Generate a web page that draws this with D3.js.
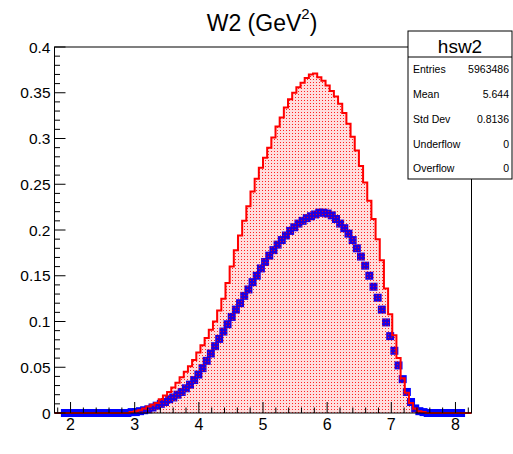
<!DOCTYPE html>
<html><head><meta charset="utf-8">
<script src="https://cdn.jsdelivr.net/npm/d3@7"></script>
<style>html,body{margin:0;padding:0;background:#fff;}svg{display:block;font-family:"Liberation Sans",Arial,Helvetica,sans-serif;}</style>
</head><body><svg id="c" width="513" height="454"></svg>
<script>
// ---- data ----
const histRange = [1.75, 8.25];
const nBins = 100;
const redCounts = [
 0,0,0,0,0,0,0,0,0,0,
 0,0,0,0,0,0,0,0,0.001,0.002,
 0.003,0.005,0.007,0.009,0.011,0.015,0.019,0.023,0.028,0.033,
 0.039,0.045,0.051,0.058,0.066,0.074,0.082,0.091,0.100,0.112,
 0.125,0.142,0.160,0.178,0.194,0.210,0.226,0.242,0.256,0.268,
 0.279,0.290,0.301,0.313,0.323,0.334,0.343,0.350,0.356,0.361,
 0.366,0.370,0.371,0.367,0.363,0.358,0.352,0.346,0.338,0.328,
 0.316,0.302,0.287,0.270,0.252,0.232,0.212,0.190,0.167,0.136,
 0.108,0.085,0.060,0.038,0.022,0.011,0.005,0.002,0.001,0,
 0,0,0,0,0,0,0,0,0,0];
const blueCounts = [
 null,null,0,0,0,0,0,0,0,0,
 0,0,0,0,0,0,0,0,0.001,0.001,
 0.002,0.003,0.004,0.006,0.008,0.010,0.012,0.015,0.017,0.020,
 0.023,0.027,0.031,0.036,0.042,0.049,0.057,0.065,0.073,0.081,
 0.089,0.097,0.105,0.113,0.120,0.128,0.135,0.143,0.150,0.158,
 0.165,0.172,0.178,0.184,0.189,0.194,0.199,0.203,0.207,0.210,
 0.213,0.215,0.217,0.219,0.219,0.218,0.216,0.212,0.207,0.202,
 0.196,0.189,0.180,0.171,0.161,0.150,0.138,0.126,0.113,0.099,
 0.084,0.068,0.052,0.037,0.023,0.012,0.005,0.002,0.001,0,
 0,0,0,0,0,0,0,0,null,null];
const yDomain = [0, 0.4];
const xTicks = [2,3,4,5,6,7,8];
const xTickLabels = ["2","3","4","5","6","7","8"];
const yTicks = [0,0.05,0.1,0.15,0.2,0.25,0.3,0.35,0.4];
const yTickLabels = ["0","0.05","0.1","0.15","0.2","0.25","0.3","0.35","0.4"];
const titleText = "W2 (GeV";
const titleSup = "2";
const titleEnd = ")";
const statsName = "hsw2";
const statsLabels = ["Entries","Mean","Std Dev","Underflow","Overflow"];
const statsValues = ["5963486","5.644","0.8136","0","0"];

// ---- layout ----
const L = 54.5, R = 471.5, T = 47, B = 413;
const svg = d3.select("#c");
const x = d3.scaleLinear().domain(histRange).range([L, R]);
const y = d3.scaleLinear().domain(yDomain).range([B, T]);
const bw = (histRange[1]-histRange[0]) / nBins;
const edges = d3.range(nBins + 1).map(i => histRange[0] + i*bw);

const defs = svg.append("defs");
const pat = defs.append("pattern").attr("id","dots").attr("patternUnits","userSpaceOnUse")
  .attr("width",3).attr("height",3);
pat.append("rect").attr("x",0).attr("y",0).attr("width",3).attr("height",3).attr("fill","#ff0000").attr("opacity",0.13);
pat.append("rect").attr("x",1).attr("y",1).attr("width",1).attr("height",1).attr("fill","#ff0000").attr("opacity",0.85);

// blue markers (drawn first)
const gB = svg.append("g");
blueCounts.forEach((v,i) => {
  if (v === null) return;
  const cx = x(histRange[0] + (i+0.5)*bw), cy = y(v);
  gB.append("rect").attr("x",cx-4).attr("y",cy-4).attr("width",8).attr("height",8).attr("fill","#0000ff");
});

// red filled step histogram
const pts = edges.map((e,i) => [e, i < nBins ? redCounts[i] : redCounts[nBins-1]]);
const area = d3.area().curve(d3.curveStepAfter).x(d => x(d[0])).y0(y(0)).y1(d => y(d[1]));
svg.append("path").attr("d", area(pts)).attr("fill","url(#dots)");
const line = d3.line().curve(d3.curveStepAfter).x(d => x(d[0])).y(d => y(d[1]));
svg.append("path").attr("d", line(pts)).attr("fill","none").attr("stroke","#ff0000").attr("stroke-width",2);

// frame
svg.append("rect").attr("x",L).attr("y",T).attr("width",R-L).attr("height",B-T)
  .attr("fill","none").attr("stroke","#000").attr("stroke-width",1);

// x axis ticks
const gx = svg.append("g");
const xMinor = d3.range(Math.ceil(histRange[0]/0.2)*0.2, histRange[1]+1e-9, 0.2);
xMinor.forEach(v => {
  const major = Math.abs(v - Math.round(v)) < 1e-6;
  gx.append("line").attr("x1",x(v)).attr("x2",x(v)).attr("y1",B).attr("y2",B-(major?11:5.5))
    .attr("stroke","#000").attr("stroke-width",1);
});
xTicks.forEach((v,i) => {
  gx.append("text").attr("x",x(v)).attr("y",430).attr("text-anchor","middle")
    .attr("font-size",16).attr("fill","#000").text(xTickLabels[i]);
});
// y axis ticks
const gy = svg.append("g");
d3.range(0, 41).forEach(k => {
  const v = k*0.01;
  const major = k % 5 === 0;
  gy.append("line").attr("x1",L).attr("x2",L+(major?11:5.5)).attr("y1",y(v)).attr("y2",y(v))
    .attr("stroke","#000").attr("stroke-width",1);
});
yTicks.forEach((v,i) => {
  gy.append("text").attr("x",L-4).attr("y",y(v)+5.5).attr("text-anchor","end")
    .attr("font-size",15.5).attr("fill","#000").text(yTickLabels[i]);
});

// title
const tt = svg.append("text").attr("x",262).attr("y",31).attr("text-anchor","middle")
  .attr("font-size",23).attr("fill","#000");
tt.append("tspan").text(titleText);
tt.append("tspan").attr("font-size",15).attr("dy",-12).text(titleSup);
tt.append("tspan").attr("dy",12).text(titleEnd);

// stats box
const sx = 408, sy = 31, sw = 104, sh = 148;
svg.append("rect").attr("x",sx).attr("y",sy).attr("width",sw).attr("height",sh)
  .attr("fill","#fff").attr("stroke","#000").attr("stroke-width",1);
svg.append("line").attr("x1",sx).attr("x2",sx+sw).attr("y1",57).attr("y2",57).attr("stroke","#000");
svg.append("text").attr("x",sx+sw/2).attr("y",52.5).attr("text-anchor","middle")
  .attr("font-size",19).attr("fill","#000").text(statsName);
const rowY = [69, 94, 119, 144, 168];
statsLabels.forEach((lab,i) => {
  svg.append("text").attr("x",sx+5).attr("y",rowY[i]+4).attr("font-size",10.5).attr("fill","#000").text(lab);
  svg.append("text").attr("x",sx+sw-3).attr("y",rowY[i]+4).attr("text-anchor","end").attr("font-size",10.5).attr("fill","#000").text(statsValues[i]);
});
</script></body></html>
